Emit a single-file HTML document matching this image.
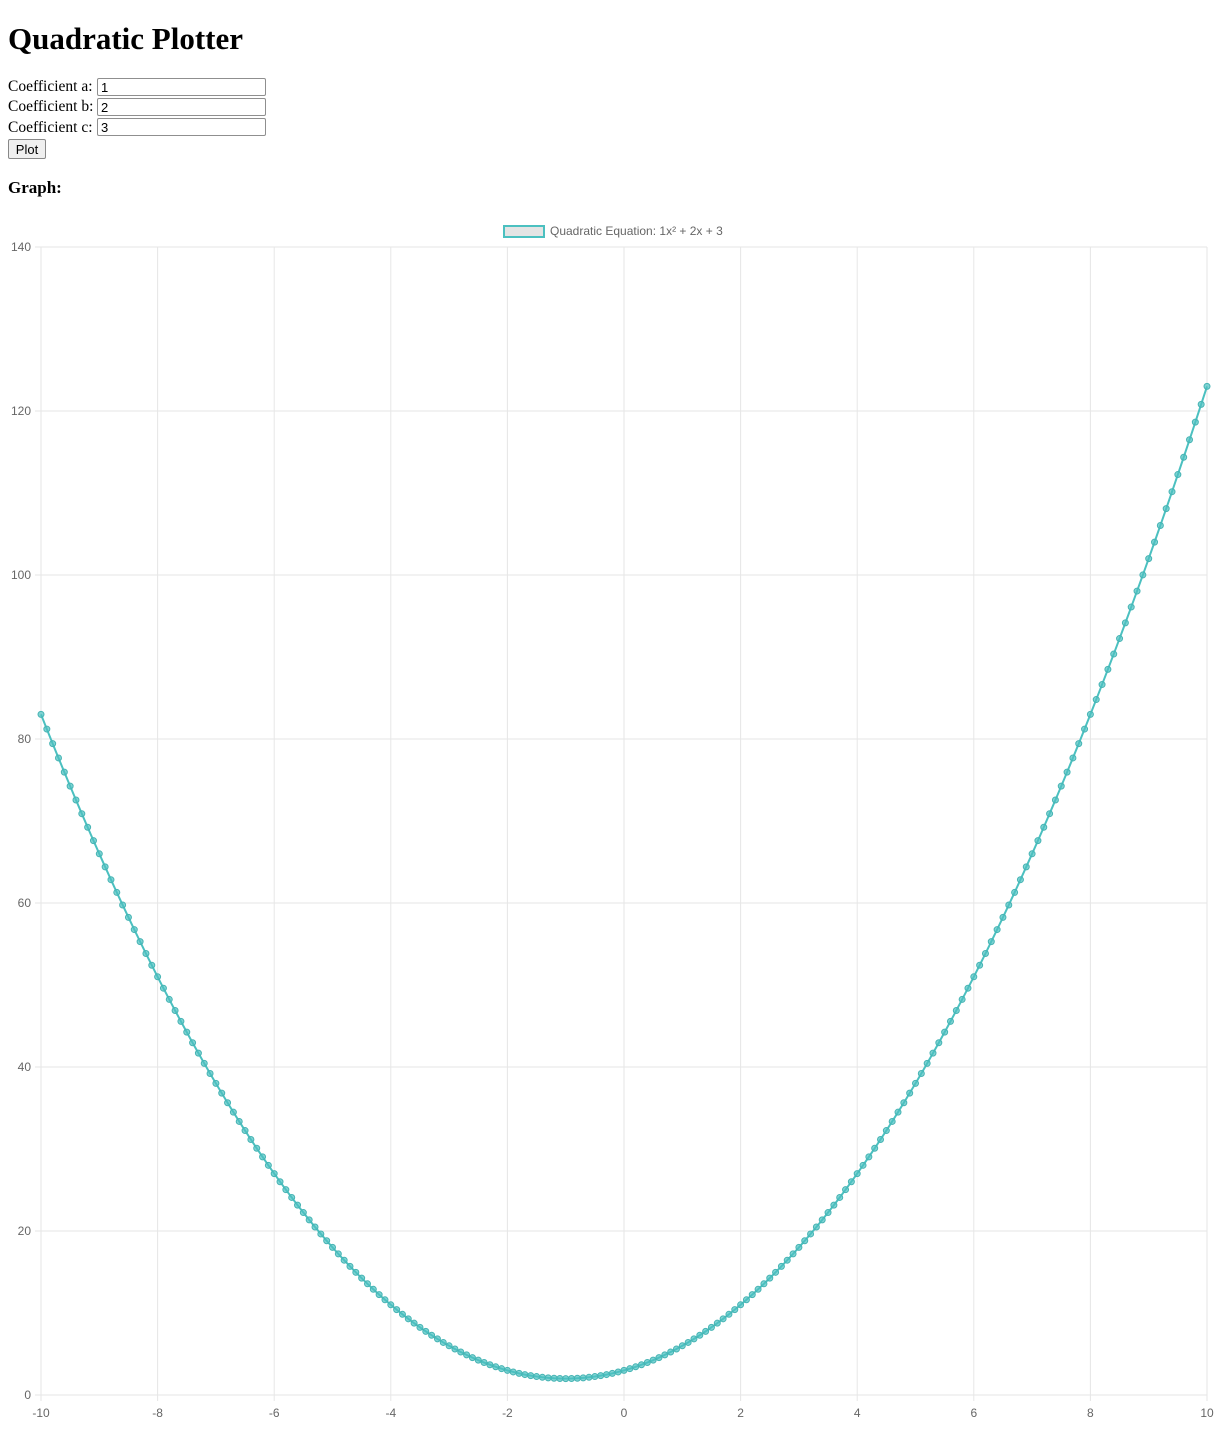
<!DOCTYPE html>
<html><head><meta charset="utf-8">
<style>
body{margin:0;width:1223px;height:1431px;position:relative;background:#fff;font-family:"Liberation Serif",serif;overflow:hidden}
h1{position:absolute;left:8px;top:19px;margin:0;font-size:31px;font-weight:bold;line-height:40px}
.lbl{position:absolute;left:8px;font-size:15.5px;line-height:20px}
input{position:absolute;left:97px;width:161px;height:16px;padding:0 3px;border:1px solid #8f8f8f;border-radius:2px;font-family:"Liberation Sans",sans-serif;font-size:13px;box-sizing:content-box}
button{position:absolute;left:8px;top:139px;width:38px;height:20px;font-family:"Liberation Sans",sans-serif;font-size:13px;padding:0;border:1px solid #888;border-radius:2px;background:#efefef}
h3{position:absolute;left:8px;top:176px;margin:0;font-size:17px;font-weight:bold;line-height:24px}
svg{position:absolute;left:0;top:0}
svg text{font-family:"Liberation Sans",sans-serif;font-size:12px;fill:#666}
</style></head><body>
<h1>Quadratic Plotter</h1>
<div class="lbl" style="top:77px">Coefficient a:</div>
<input style="top:78px" value="1">
<div class="lbl" style="top:97px">Coefficient b:</div>
<input style="top:98px" value="2">
<div class="lbl" style="top:118px">Coefficient c:</div>
<input style="top:118px" value="3">
<button>Plot</button>
<h3>Graph:</h3>
<svg id="chart" width="1223" height="1431"></svg>
<script>
const coefficients=[1,2,3];
const xRange=[-10,10];
const xStep=0.1;
const xTicks=[-10,-8,-6,-4,-2,0,2,4,6,8,10];
const yTicks=[0,20,40,60,80,100,120,140];
const legendLabel="Quadratic Equation: 1x\u00b2 + 2x + 3";

const L=41,R=1207,T=247,B=1395;
const sx=v=>L+(v-xRange[0])/(xRange[1]-xRange[0])*(R-L);
const sy=v=>B-(v-yTicks[0])/(yTicks[yTicks.length-1]-yTicks[0])*(B-T);
const svg=document.getElementById('chart');
const NS='http://www.w3.org/2000/svg';
function mk(tag,attrs){const e=document.createElementNS(NS,tag);for(const k in attrs)e.setAttribute(k,attrs[k]);svg.appendChild(e);return e;}

xTicks.forEach(t=>{
  const g=mk('line',{x1:sx(t),x2:sx(t),y1:T,y2:B+6,stroke:'#e6e6e6'});
  
  
  const tx=mk('text',{x:sx(t),y:B+22,'text-anchor':'middle'});tx.textContent=t;
  
  
});
yTicks.forEach(t=>{
  const g=mk('line',{x1:L-6,x2:R,y1:sy(t),y2:sy(t),stroke:'#e6e6e6'});
  
  
  const tx=mk('text',{x:L-10,y:sy(t)+4,'text-anchor':'end'});tx.textContent=t;
  
  
});

const xs=[],ys=[];
const n=Math.round((xRange[1]-xRange[0])/xStep);
for(let i=0;i<=n;i++){const x=xRange[0]+i*xStep;xs.push(x);ys.push(coefficients[0]*x*x+coefficients[1]*x+coefficients[2]);}
const line=mk('polyline',{points:xs.map((x,i)=>sx(x)+','+sy(ys[i])).join(' '),fill:'none',stroke:'rgb(75,192,192)','stroke-width':2});


xs.forEach((x,i)=>{
  const c=mk('circle',{cx:sx(x),cy:sy(ys[i]),r:3,fill:'rgba(75,192,192,0.7)',stroke:'rgb(70,180,180)','stroke-width':1});
  
  
});

const lb=mk('rect',{x:504,y:226,width:40,height:11,fill:'#e4e4e4',stroke:'rgb(75,192,192)','stroke-width':2});


const lt=mk('text',{x:550,y:235});lt.textContent=legendLabel;


</script>
</body></html>
